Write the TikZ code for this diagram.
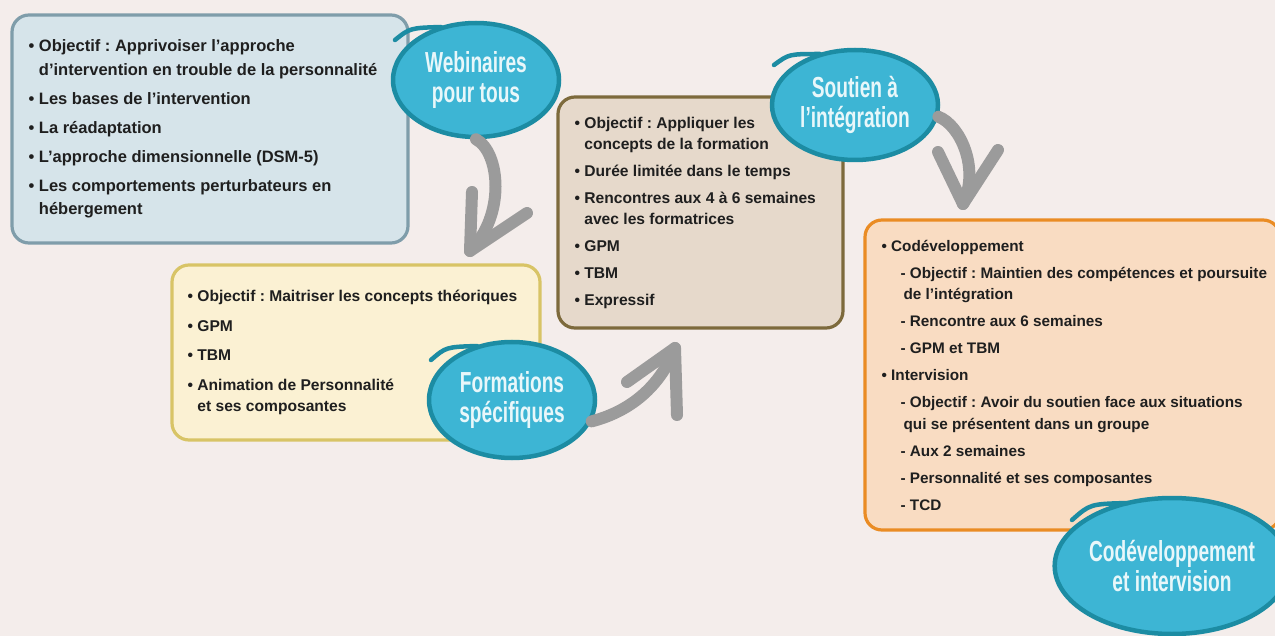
\documentclass[tikz,border=0pt]{standalone}
\usepackage{fontspec}
\setmainfont{Liberation Sans}
\newfontfamily\bubblefont[FakeStretch=0.66]{Liberation Sans}
\usetikzlibrary{shapes.geometric}
\frenchspacing

\definecolor{bgcol}{HTML}{F4EDEB}
\definecolor{ink}{HTML}{1F1F1F}
\definecolor{bluefill}{HTML}{D6E4EA}
\definecolor{blueedge}{HTML}{7F9DAA}
\definecolor{creamfill}{HTML}{FBF1D3}
\definecolor{creamedge}{HTML}{D8C466}
\definecolor{tanfill}{HTML}{E6D9CB}
\definecolor{tanedge}{HTML}{7D6A3C}
\definecolor{peachfill}{HTML}{F9DCC2}
\definecolor{peachedge}{HTML}{EA8C24}
\definecolor{bubblefill}{HTML}{3DB5D4}
\definecolor{bubbleedge}{HTML}{1C8CA3}
\definecolor{bubbletext}{HTML}{E8F7FA}
\definecolor{arrowgray}{HTML}{9B9B9B}

% list helpers
\newcommand\bulletmark{•\ }
\newcommand\hangpad{\phantom{•\ }}
\newcommand\subdash{\hspace*{19pt}-\ }
\newcommand\subpad{\hspace*{22pt}}

\begin{document}
\begin{tikzpicture}[x=1pt,y=-1pt,
  panel/.style={rectangle, rounded corners=17pt, line width=3.2pt, inner sep=0pt},
  bodytext/.style={align=left, inner sep=0pt, text=ink, anchor=west},
  bubble/.style={ellipse, fill=bubblefill, draw=bubbleedge, line width=4.5pt,
    inner sep=0pt, align=center, text=bubbletext,
    font=\bubblefont\bfseries\fontsize{29}{30}\selectfont},
  swoosh/.style={draw=bubbleedge, line width=4.5pt, line cap=round},
  flow/.style={draw=arrowgray, line width=12pt, line cap=round, line join=round},
]
\useasboundingbox (0,0) rectangle (1275,636);
\fill[bgcol] (0,0) rectangle (1275,636);

% ---- panels ----
\node[panel, fill=bluefill, draw=blueedge, minimum width=396, minimum height=228] (b1) at (210,129) {};
\node[bodytext, font=\fontsize{16.5}{23.5}\selectfont\bfseries] (t1) at ([xshift=18]b1.west) {%
\bulletmark Objectif : Apprivoiser l’approche\\
\hangpad d’intervention en trouble de la personnalité\\[5.5pt]
\bulletmark Les bases de l’intervention\\[5.5pt]
\bulletmark La réadaptation\\[5.5pt]
\bulletmark L’approche dimensionnelle (DSM-5)\\[5.5pt]
\bulletmark Les comportements perturbateurs en\\
\hangpad hébergement};

\node[panel, fill=creamfill, draw=creamedge, minimum width=368, minimum height=175] (b2) at (356,352.5) {};
\node[bodytext, font=\fontsize{15.6}{21}\selectfont\bfseries] (t2) at ([xshift=17]b2.west) {%
\bulletmark Objectif : Maitriser les concepts théoriques\\[8.5pt]
\bulletmark GPM\\[8.5pt]
\bulletmark TBM\\[8.5pt]
\bulletmark Animation de Personnalité\\
\hangpad et ses composantes};

\node[panel, fill=tanfill, draw=tanedge, minimum width=285, minimum height=231] (b3) at (700.5,212.5) {};
\node[bodytext, font=\fontsize{15.6}{21}\selectfont\bfseries] (t3) at ([xshift=18]b3.west) {%
\bulletmark Objectif : Appliquer les\\
\hangpad concepts de la formation\\[6pt]
\bulletmark Durée limitée dans le temps\\[6pt]
\bulletmark Rencontres aux 4 à 6 semaines\\
\hangpad avec les formatrices\\[6pt]
\bulletmark GPM\\[6pt]
\bulletmark TBM\\[6pt]
\bulletmark Expressif};

\node[panel, fill=peachfill, draw=peachedge, minimum width=415, minimum height=310] (b4) at (1072.5,375) {};
\node[bodytext, font=\fontsize{15.3}{21.5}\selectfont\bfseries] (t4) at ([xshift=18]b4.west) {%
\bulletmark Codéveloppement\\[5.5pt]
\subdash Objectif : Maintien des compétences et poursuite\\
\subpad de l’intégration\\[5.5pt]
\subdash Rencontre aux 6 semaines\\[5.5pt]
\subdash GPM et TBM\\[5.5pt]
\bulletmark Intervision\\[5.5pt]
\subdash Objectif : Avoir du soutien face aux situations\\
\subpad qui se présentent dans un groupe\\[5.5pt]
\subdash Aux 2 semaines\\[5.5pt]
\subdash Personnalité et ses composantes\\[5.5pt]
\subdash TCD};

% ---- arrow end points ----
\coordinate (a1tip) at (470,251);
\coordinate (a1l) at (472,192);
\coordinate (a1r) at (527,213);
\coordinate (a2tip) at (675,348);
\coordinate (a2l) at (627,382);
\coordinate (a2r) at (677,415);
\coordinate (a3tip) at (963,204);
\coordinate (a3l) at (938,152);
\coordinate (a3r) at (998,150);

% ---- bubbles ----
\node[bubble, minimum width=166, minimum height=114] (e1) at (476,80) {Webinaires\\pour tous};
\node[bubble, minimum width=166, minimum height=116] (e2) at (512,400) {Formations\\spécifiques};
\node[bubble, minimum width=166, minimum height=110] (e3) at (855,105) {Soutien à\\l’intégration};
\node[bubble, minimum width=206, minimum height=136] (e4) at (1172,566) {Codéveloppement\\et intervision};

% hand-drawn overlap where each loop closes on itself
\draw[swoosh] ([shift={(-81,-40)}]e1.center) .. controls ([shift={(-66,-52)}]e1.center) .. ([shift={(-35,-53)}]e1.center);
\draw[swoosh] ([shift={(-81,-40)}]e2.center) .. controls ([shift={(-66,-53)}]e2.center) .. ([shift={(-35,-54)}]e2.center);
\draw[swoosh] ([shift={(-81,-40)}]e3.center) .. controls ([shift={(-66,-51)}]e3.center) .. ([shift={(-35,-51)}]e3.center);
\draw[swoosh] ([shift={(-100,-46)}]e4.center) .. controls ([shift={(-82,-62)}]e4.center) .. ([shift={(-44,-63)}]e4.center);

% ---- connectors ----
\draw[flow] (e1.south) .. controls (500,152) and (506,215) .. (a1tip);
\draw[flow] (a1l) -- (a1tip) -- (a1r);
\draw[flow] (e2.-15) .. controls (635,410) and (662,382) .. (a2tip);
\draw[flow] (a2l) -- (a2tip) -- (a2r);
\draw[flow] (e3.-8) .. controls (960,125) and (980,168) .. (a3tip);
\draw[flow] (a3l) -- (a3tip) -- (a3r);
\end{tikzpicture}
\end{document}
